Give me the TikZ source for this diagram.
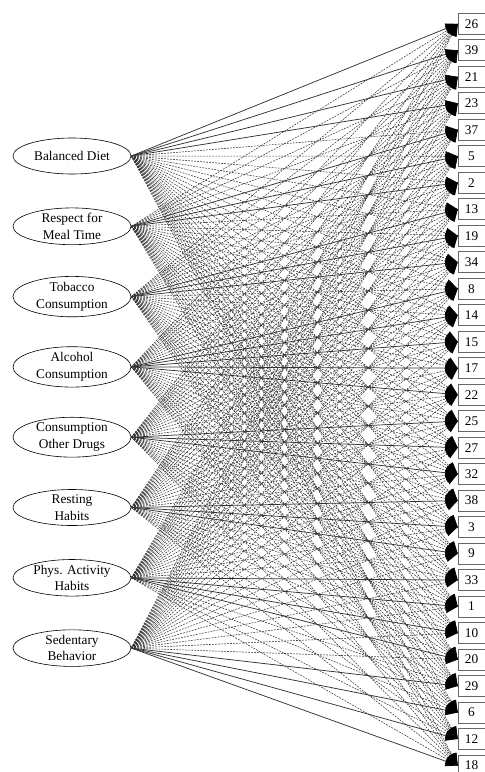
\documentclass[tikz,border=0pt]{standalone}
\usepackage{fontspec}
\setmainfont{Liberation Serif}
\usetikzlibrary{arrows.meta,shapes.geometric}
\tikzset{
  factor/.style={ellipse,draw=black,line width=0.6pt,minimum width=118pt,minimum height=36pt,inner sep=0pt,align=center,font=\fontsize{13.3}{16.5}\selectfont},
  itembox/.style={rectangle,draw=black!60,line width=0.6pt,fill=white,minimum width=27pt,minimum height=21pt,inner sep=0pt,font=\fontsize{13.3}{15}\selectfont},
  tip/.style={-{Triangle[length=12pt,width=10pt,color=black]}},
  crossline/.style={tip,draw=black!80,line width=0.55pt,dash pattern=on 1.8pt off 1.2pt},
  mainline/.style={tip,draw=black!80,line width=0.75pt}
}
\begin{document}
\begin{tikzpicture}[x=1pt,y=-1pt]
\useasboundingbox (0,0) rectangle (485,772);
\clip (0,0) rectangle (485,772);
% factors
\node[factor] (f1) at (72,156.0) {Balanced Diet};
\node[factor] (f2) at (72,226.3) {Respect for\\Meal Time};
\node[factor] (f3) at (72,296.6) {Tobacco\\Consumption};
\node[factor] (f4) at (72,366.9) {Alcohol\\Consumption};
\node[factor] (f5) at (72,437.2) {Consumption\\Other Drugs};
\node[factor] (f6) at (72,507.5) {Resting\\Habits};
\node[factor] (f7) at (72,577.8) {Phys. Activity\\Habits};
\node[factor] (f8) at (72,648.1) {Sedentary\\Behavior};
% items
\foreach \lab [count=\i from 0] in {26,39,21,23,37,5,2,13,19,34,8,14,15,17,22,25,27,32,38,3,9,33,1,10,20,29,6,12,18}{
  \node[itembox] (b\i) at (471.5,{23.8+26.49*\i}) {\lab};
}
% cross loadings (dashed)
\foreach \f/\s/\e in {1/0/3,2/4/6,3/7/9,4/10/14,5/15/17,6/18/20,7/21/24,8/25/28}{
  \foreach \b in {0,...,28}{
    \ifnum\b<\s\relax
      \draw[crossline] (f\f.east) -- (b\b.west);
    \else\ifnum\b>\e\relax
      \draw[crossline] (f\f.east) -- (b\b.west);
    \fi\fi
  }
}
% main loadings (solid)
\foreach \f/\s/\e in {1/0/3,2/4/6,3/7/9,4/10/14,5/15/17,6/18/20,7/21/24,8/25/28}{
  \foreach \b in {\s,...,\e}{
    \draw[mainline] (f\f.east) -- (b\b.west);
  }
}
% redraw boxes on top
\foreach \lab [count=\i from 0] in {26,39,21,23,37,5,2,13,19,34,8,14,15,17,22,25,27,32,38,3,9,33,1,10,20,29,6,12,18}{
  \node[itembox] at (b\i) {\lab};
}
\end{tikzpicture}
\end{document}
